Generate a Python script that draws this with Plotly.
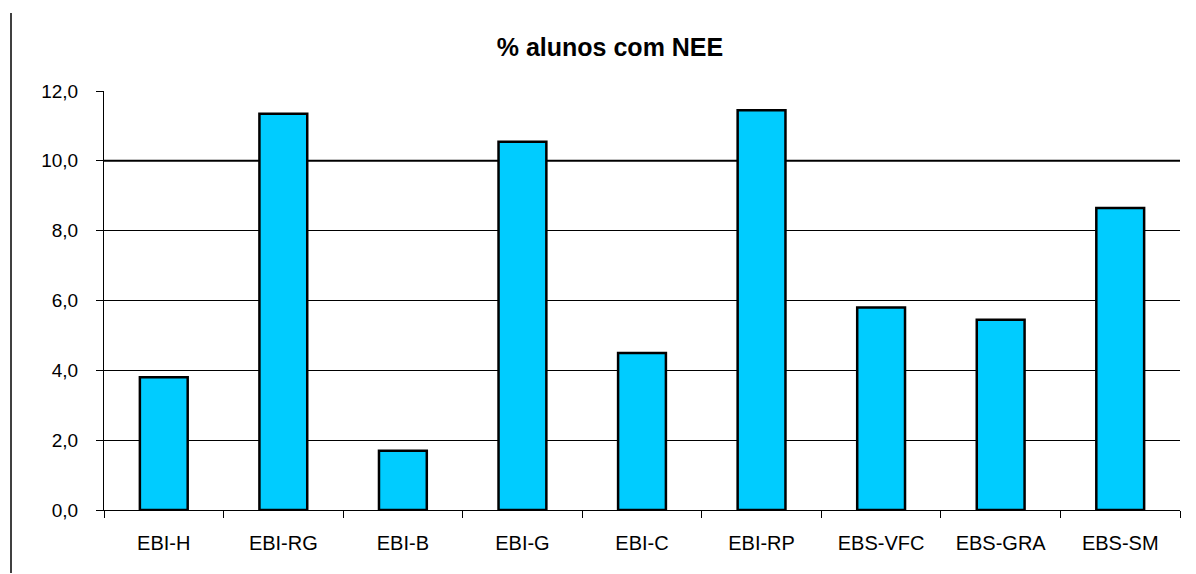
import plotly.graph_objects as go

categories = ["EBI-H", "EBI-RG", "EBI-B", "EBI-G", "EBI-C", "EBI-RP", "EBS-VFC", "EBS-GRA", "EBS-SM"]
values = [3.8, 11.35, 1.7, 10.55, 4.5, 11.45, 5.8, 5.45, 8.65]
y_ticks = [0, 2, 4, 6, 8, 10, 12]
y_tick_labels = ["0,0", "2,0", "4,0", "6,0", "8,0", "10,0", "12,0"]
title_text = "% alunos com NEE"

# page has an 8px body margin; compensate so the plot area sits at x 104..1180, y 91..510
PW, PH = 1076, 419

fig = go.Figure(go.Bar(
    x=categories, y=values,
    marker=dict(color="#00CCFF", line=dict(color="#000000", width=2.5)),
    width=0.4,
))

fig.update_layout(
    width=1188, height=566,
    margin=dict(l=96, r=16, t=83, b=64, pad=0),
    paper_bgcolor="white", plot_bgcolor="white",
    font=dict(family="Liberation Sans, Arial, sans-serif", color="black", size=20),
    title=dict(text="<b>" + title_text + "</b>", xref="paper", x=(610 - 104) / PW, xanchor="center",
               yref="container", y=1 - 39 / 566, yanchor="middle",
               font=dict(size=25, color="black")),
    showlegend=False,
)
fig.update_xaxes(
    showline=True, linecolor="black", linewidth=1,
    ticks="outside", tickson="boundaries", ticklen=7, tickcolor="black",
    showgrid=False, tickfont=dict(size=20), ticklabelstandoff=15,
)
fig.update_yaxes(
    range=[0, 12], tickvals=y_ticks, ticktext=y_tick_labels,
    showline=True, linecolor="black", linewidth=1,
    ticks="outside", ticklen=7, tickcolor="black",
    showgrid=True, gridcolor="black", gridwidth=1,
    zeroline=False, tickfont=dict(size=19), ticklabelstandoff=14,
)
fig.add_shape(type="line", xref="paper", yref="y", x0=0, x1=1, y0=10, y1=10,
              line=dict(color="black", width=2), layer="below")
fig.add_shape(type="line", xref="paper", yref="paper",
              x0=-93 / PW, x1=-93 / PW, y0=-63 / PH, y1=1 + 78 / PH,
              line=dict(color="black", width=1.5))

fig.write_html("out.html")
